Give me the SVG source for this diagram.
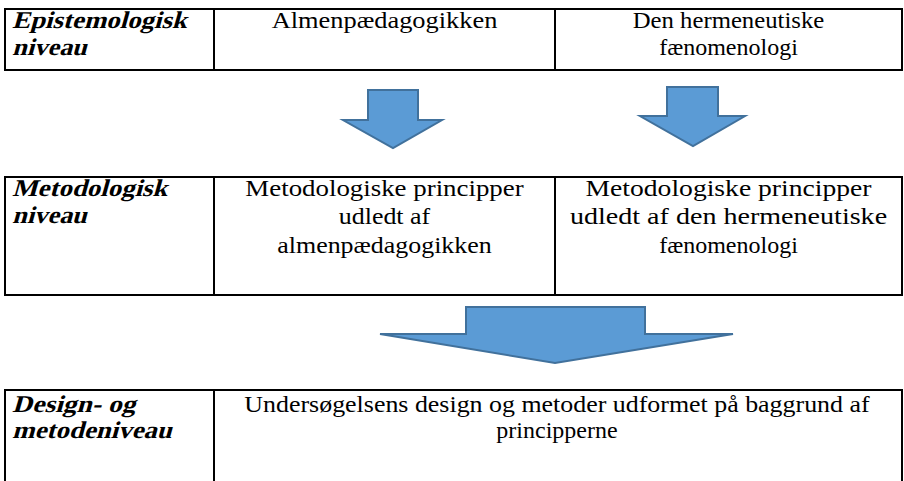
<svg xmlns="http://www.w3.org/2000/svg" width="904" height="481" viewBox="0 0 904 481">
<style>
.ln{stroke:#000;stroke-width:2;fill:none}
text{font-size:24px;fill:#000}
.c{text-anchor:middle}
.ar{fill:#5B9BD5;stroke:#41719C;stroke-width:2;stroke-linejoin:miter}
</style>
<rect width="904" height="481" fill="#fff"/>
<g id="row1">
<rect class="ln" x="5" y="9" width="897" height="61"/>
<line class="ln" x1="214" y1="9" x2="214" y2="70"/>
<line class="ln" x1="555" y1="9" x2="555" y2="70"/>
</g>
<g id="epistemologisk-label" font-family="Liberation Serif" font-weight="bold">
<text transform="translate(12,28) scale(1.12,1) skewX(-14)">Epistemologisk</text>
<text transform="translate(12,55) scale(1.1,1) skewX(-14)">niveau</text>
</g>
<g id="almen" font-family="Liberation Serif">
<text class="c" transform="translate(384.5,28) scale(1.1,1)">Almenpædagogikken</text>
</g>
<g id="hermeneutisk" font-family="Liberation Serif">
<text class="c" transform="translate(728.5,28) scale(1.03,1)">Den hermeneutiske</text>
<text class="c" transform="translate(728.5,55) scale(1.0,1)">fænomenologi</text>
</g>
<g id="row2">
<rect class="ln" x="5" y="177" width="897" height="118"/>
<line class="ln" x1="214" y1="177" x2="214" y2="295"/>
<line class="ln" x1="555" y1="177" x2="555" y2="295"/>
</g>
<g id="metodologisk-label" font-family="Liberation Serif" font-weight="bold">
<text transform="translate(12,196) scale(1.12,1) skewX(-14)">Metodologisk</text>
<text transform="translate(12,223) scale(1.1,1) skewX(-14)">niveau</text>
</g>
<g id="principper-almen" font-family="Liberation Serif">
<text class="c" transform="translate(384.5,196) scale(1.12,1)">Metodologiske principper</text>
<text class="c" transform="translate(384.5,224) scale(1.08,1)">udledt af</text>
<text class="c" transform="translate(384.5,253) scale(1.08,1)">almenpædagogikken</text>
</g>
<g id="principper-herm" font-family="Liberation Serif">
<text class="c" transform="translate(728.5,196) scale(1.15,1)">Metodologiske principper</text>
<text class="c" transform="translate(728.5,224) scale(1.17,1)">udledt af den hermeneutiske</text>
<text class="c" transform="translate(728.5,253) scale(1.0,1)">fænomenologi</text>
</g>
<g id="row3">
<polyline class="ln" points="5,490 5,390 902,390 902,490"/>
<line class="ln" x1="214" y1="390" x2="214" y2="490"/>
</g>
<g id="design-label" font-family="Liberation Serif" font-weight="bold">
<text transform="translate(12,412) scale(1.15,1) skewX(-14)">Design- og</text>
<text transform="translate(12,438) scale(1.12,1) skewX(-14)">metodeniveau</text>
</g>
<g id="design" font-family="Liberation Serif">
<text class="c" transform="translate(557,412) scale(1.08,1)">Undersøgelsens design og metoder udformet på baggrund af</text>
<text class="c" transform="translate(557,438) scale(1.0,1)">principperne</text>
</g>
<g id="connectors">
<polygon class="ar" points="368,90 418,90 418,120 442,120 393,148 343,120 368,120"/>
<polygon class="ar" points="667,87 718,87 718,116 745,116 693,146 640,116 667,116"/>
<polygon class="ar" points="466,307 645,307 645,334 733,334 555,363 380,334 466,334"/>
</g>
</svg>
